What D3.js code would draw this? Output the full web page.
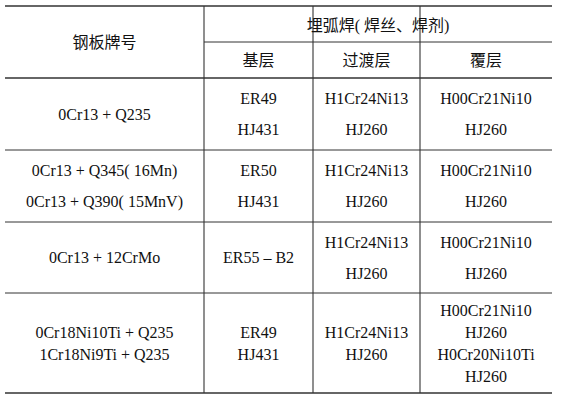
<!DOCTYPE html><html><head><meta charset="utf-8"><script src="https://cdn.jsdelivr.net/npm/d3@7"></script>
<style>body{margin:0;background:#fff}</style></head><body><svg id="c" width="561" height="400"></svg>
<script>
const headers=["钢板牌号","埋弧焊( 焊丝、焊剂)","基层","过渡层","覆层"];
const steel=[["0Cr13 + Q235"],["0Cr13 + Q345( 16Mn)","0Cr13 + Q390( 15MnV)"],["0Cr13 + 12CrMo"],["0Cr18Ni10Ti + Q235","1Cr18Ni9Ti + Q235"]];
const base=[["ER49","HJ431"],["ER50","HJ431"],["ER55 – B2"],["ER49","HJ431"]];
const trans=[["H1Cr24Ni13","HJ260"],["H1Cr24Ni13","HJ260"],["H1Cr24Ni13","HJ260"],["H1Cr24Ni13","HJ260"]];
const clad=[["H00Cr21Ni10","HJ260"],["H00Cr21Ni10","HJ260"],["H00Cr21Ni10","HJ260"],["H00Cr21Ni10","HJ260","H0Cr20Ni10Ti","HJ260"]];
const rowEdges=[78,150,222,293,393];
const colEdges=[5,204,313,420,552];
const svg=d3.select("#c");
const line=(x1,y1,x2,y2,w)=>svg.append("line").attr("x1",x1).attr("y1",y1).attr("x2",x2).attr("y2",y2).attr("stroke","#333").attr("stroke-width",w);
line(5,6,552,6,1.6);line(204,42,552,42,1);
rowEdges.forEach((y,i)=>line(5,y,552,y,i==0||i==4?1.3:1));
[204,313,420].forEach(x=>line(x,6,x,393,1.1));
const txt=(x,y,s)=>svg.append("text").attr("x",x).attr("y",y).attr("text-anchor","middle").attr("dominant-baseline","central")
 .attr("font-family","'Liberation Serif','DejaVu Serif','Noto Sans CJK SC',serif").attr("font-size",16).attr("fill","#111").text(s);
const cx=i=>(colEdges[i]+colEdges[i+1])/2;
txt(cx(0),42,headers[0]);txt((204+552)/2,25,headers[1]);
[2,3,4].forEach((h,k)=>txt(cx(k+1),60,headers[h]));
function cell(col,r,lines){const mid=(rowEdges[r]+rowEdges[r+1])/2;const gap=lines.length>2||r==3?22:31;
 lines.forEach((s,j)=>txt(cx(col),mid+(j-(lines.length-1)/2)*gap,s));}
steel.forEach((l,r)=>cell(0,r,l));
base.forEach((l,r)=>cell(1,r,l));trans.forEach((l,r)=>cell(2,r,l));clad.forEach((l,r)=>cell(3,r,l));
</script></body></html>
